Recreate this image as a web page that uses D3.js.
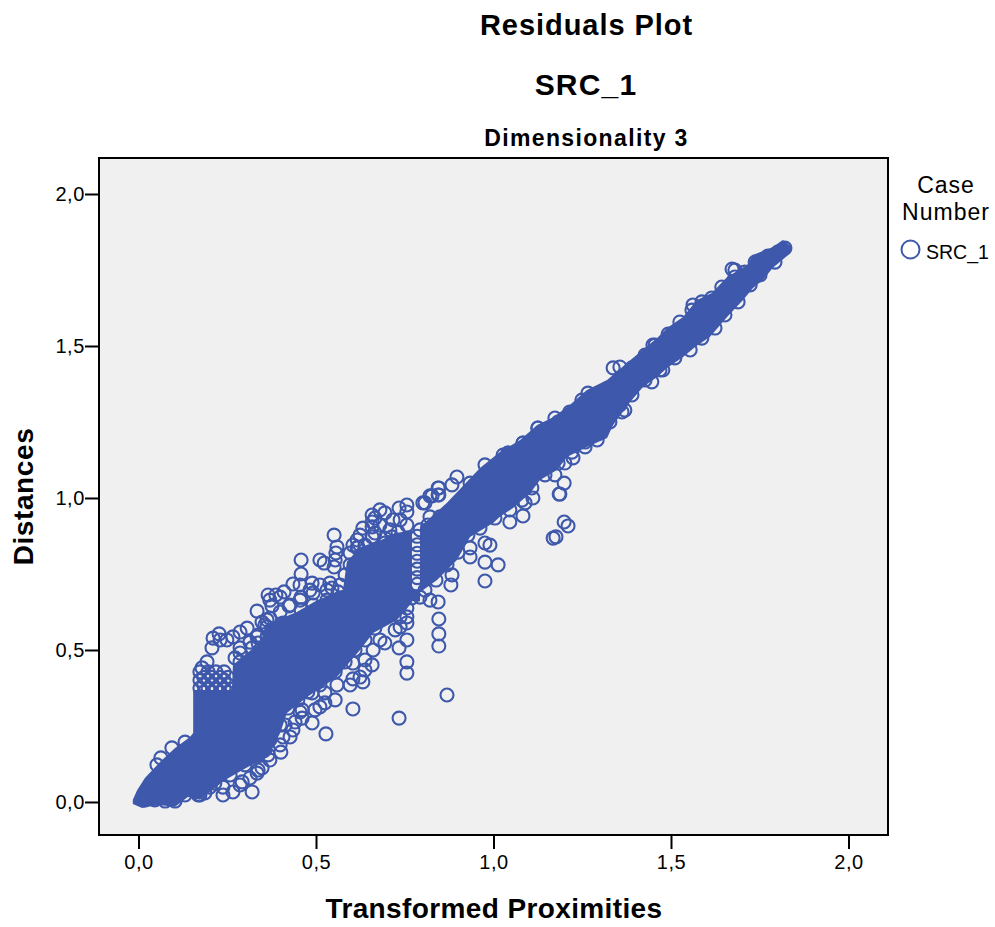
<!DOCTYPE html>
<html><head><meta charset="utf-8">
<script src="https://cdn.jsdelivr.net/npm/d3@7/dist/d3.min.js"></script>
<style>html,body{margin:0;padding:0;background:#fff}svg{display:block}text{font-family:"Liberation Sans",Arial,sans-serif;fill:#000}</style>
</head><body><svg id="c" width="995" height="927"></svg>
<script>
const tickValues=[0,0.5,1,1.5,2];
const titles=["Residuals Plot","SRC_1","Dimensionality 3"];
const xLabel="Transformed Proximities", yLabel="Distances";
const legendTitle=["Case","Number"], seriesName="SRC_1";
// Outline of the fully overplotted part of the cloud
const denseX=[-.016,-.004,.018,.061,.103,.145,.154,.154,.263,.266,.351,.356,.446,.503,.576,.587,.624,.680,.728,.770,.770,.793,.793,.869,.962,1.018,1.075,1.123,1.168,1.215,1.263,1.320,1.376,1.413,1.461,1.489,1.534,1.573,1.615,1.658,1.714,1.731,1.787,1.815,1.841,1.830,1.787,1.759,1.731,1.703,1.658,1.610,1.568,1.534,1.489,1.461,1.421,1.385,1.337,1.320,1.263,1.207,1.179,1.131,1.103,1.055,1.018,.999,.934,.897,.841,.793,.793,.770,.770,.728,.661,.624,.559,.475,.418,.399,.365,.308,.244,.215,.173,.139,.103,.055,.010,-.016];
const denseY=[.007,.039,.079,.132,.178,.214,.227,.368,.368,.451,.533,.582,.625,.664,.697,.790,.838,.860,.885,.895,.700,.700,.905,.984,1.099,1.151,1.191,1.240,1.266,1.306,1.355,1.388,1.444,1.480,1.526,1.559,1.595,1.651,1.674,1.727,1.766,1.799,1.826,1.849,1.826,1.799,1.757,1.717,1.691,1.651,1.595,1.530,1.497,1.464,1.428,1.398,1.365,1.316,1.240,1.197,1.168,1.135,1.092,1.059,1.016,.967,.938,.918,.872,.796,.730,.690,.660,.660,.655,.599,.556,.500,.411,.345,.293,.227,.148,.115,.072,.046,.007,.016,-.016,-.010,-.020,-.007];
// Individually visible cases
const caseX=[.052,.063,.094,.131,
.173,.173,.173,.196,.196,.196,.218,.218,.218,.241,.241,.241,.179,.193,.207,.210,.227,.230,.249,.266,.286,.306,.286,.286,.334,.337,.320,.362,.362,.362,
.334,.365,.376,.399,.410,.424,.435,.458,.458,.458,.458,.458,.489,.492,.492,.492,.511,.523,.551,.559,.556,.554,.551,.531,.545,.562,.531,.407,
.616,.618,.616,.666,.658,.658,.694,.708,.632,.734,.756,.756,.756,.694,.694,.694,.807,.827,.846,.846,.883,.934,.934,
.756,.756,.756,.756,.756,.756,.734,.734,.869,.604,.694,.661,.658,.638,.632,.604,.624,.604,.737,.737,
.559,.525,.525,.511,.489,.489,.528,.461,.461,.435,.427,.407,.401,.365,.337,.334,.292,.320,.266,.238,.238,.201,.173,
.801,.821,.844,.844,.897,.976,1.027,1.041,1.125,.821,.793,
.793,.821,.844,.846,.846,.846,.880,.883,.934,.934,.976,.976,1.013,.990,.976,1.046,1.083,1.111,1.089,1.199,1.187,1.185,1.199,1.210,1.176,1.168,1.224,1.201,1.173,1.370,1.362,1.446,1.337,1.356,1.266,1.125,1.083,1.173,1.258,1.292,
1.672,1.680,1.562,1.449,1.477,1.083,1.041,
.018,.046,.075,.103,.131,.168,.187,.215,.258,.300,.337,.356,.370,.399,.421,.449,.477,.511,.554,.582,.610,.638,.666,.708,.737,.770,
.807,.838,.869,.900,.928,.962,1.004,1.046,1.080,1.108,1.145,1.182,1.221,1.258,1.300,1.328,1.356,1.390,1.427,1.469,1.511,1.554,1.587,1.624,1.652,1.689,1.723,1.751,1.793,
1.821,1.801,1.773,1.737,1.708,1.680,1.643,1.615,1.587,1.559,1.525,1.492,1.455,1.427,1.390,1.356,1.323,1.289,1.249,1.215,1.182,1.145,1.103,1.069,1.032,.996,.962,.920,.883,.849,.815,
.731,.714,.694,.666,.658,.638,.616,.596,.680,
.568,.539,.511,.483,.455,.427,.399,.370,.356,.337,.314,.286,.272,
.184,.184,.184,.207,.207,.207,.230,.230,.230,.252,.252,.252,
.785,.785,.785,.785,.785,.785,.785,
.455,.441,.413,.399,.370,.348,.314,.286,.497,.554,.596,.638,.680,.723,
.370,.387,.348,.455,.582,.596,.604,.624,.658,.680,.717,.737];
const caseY=[.122,.145,.178,.197,
.428,.401,.375,.428,.401,.375,.428,.401,.375,.428,.401,.375,.441,.461,.507,.539,.553,.533,.533,.543,.559,.572,.490,.461,.543,.523,.507,.599,.576,.543,
.628,.681,.645,.674,.691,.645,.717,.796,.750,.674,.632,.592,.720,.688,.648,.609,.796,.786,.878,.839,.819,.796,.773,.697,.704,.691,.664,.589,
.862,.839,.770,.934,.921,.905,.951,.895,.901,.967,.977,.954,.911,.852,.822,.796,.984,1.007,1.033,1.010,1.043,1.049,1.020,
.638,.609,.589,.533,.461,.424,.507,.276,.352,.306,.523,.500,.451,.434,.395,.405,.411,.457,.609,.576,
.385,.359,.326,.313,.359,.260,.224,.276,.303,.237,.214,.214,.164,.155,.105,.095,.066,.033,.033,.023,.049,.049,.023,
.984,1.007,1.033,1.010,1.069,1.109,1.141,1.148,1.230,.938,.895,
.674,.664,.658,.602,.553,.513,.714,.747,.806,.836,.789,.727,.780,.845,.852,.921,.941,1.000,.984,1.049,1.013,1.013,.921,.908,.872,.868,1.132,1.115,1.076,1.289,1.283,1.382,1.428,1.431,1.345,1.230,1.181,1.263,1.168,1.191,
1.753,1.750,1.635,1.503,1.421,1.181,1.148,
.007,.007,.003,.003,.023,.023,.030,.062,.089,.122,.155,.171,.204,.253,.309,.336,.362,.385,.428,.461,.500,.533,.572,.615,.648,.671,
.697,.730,.780,.822,.878,.901,.934,.961,.993,1.033,1.076,1.115,1.151,1.184,1.214,1.250,1.306,1.339,1.388,1.421,1.461,1.487,1.526,1.559,1.602,1.645,1.701,1.734,1.776,
1.822,1.809,1.796,1.776,1.743,1.727,1.694,1.658,1.645,1.618,1.579,1.539,1.503,1.470,1.428,1.395,1.362,1.342,1.322,1.283,1.250,1.224,1.184,1.151,1.125,1.086,1.053,1.003,.961,.938,.911,
.888,.872,.868,.885,.872,.845,.836,.819,.911,
.714,.720,.714,.697,.664,.648,.625,.605,.582,.549,.526,.507,.474,
.410,.385,.360,.410,.385,.360,.410,.385,.360,.410,.385,.360,
.716,.738,.766,.792,.818,.846,.874,
.296,.263,.253,.188,.138,.112,.079,.056,.303,.336,.385,.467,.533,.566,
.664,.681,.592,.714,.747,.780,.845,.878,.944,.961,.928,.928];

const blue="#3e58ac";
const x=d3.scaleLinear().domain([-.1113,2.1113]).range([99,888]);
const y=d3.scaleLinear().domain([-.1086,2.1184]).range([835,158]);
const svg=d3.select("#c");
svg.append("rect").attr("x",99).attr("y",158).attr("width",789).attr("height",677).attr("fill","#f0f0f0");
const tf=d=>d.toFixed(1).replace(".",",");
const ax=svg.append("g").attr("transform","translate(0,835)").call(d3.axisBottom(x).tickValues(tickValues).tickSize(14).tickSizeOuter(0).tickPadding(6).tickFormat(tf));
const ay=svg.append("g").attr("transform","translate(99,0)").call(d3.axisLeft(y).tickValues(tickValues).tickSize(14).tickSizeOuter(0).tickPadding(0).tickFormat(tf));
for(const a of [ax,ay]){a.select(".domain").remove();a.selectAll("line").attr("stroke","#000").attr("stroke-width",2);a.selectAll("text").attr("font-size",20).attr("letter-spacing",0.6).attr("font-family","Liberation Sans").attr("fill","#000");}
const dense=denseX.map((d,i)=>[d,denseY[i]]);
svg.append("path").attr("d",d3.line().x(d=>x(d[0])).y(d=>y(d[1])).curve(d3.curveLinearClosed)(dense)).attr("fill",blue);
svg.append("g").selectAll("circle").data(caseX.map((d,i)=>[d,caseY[i]])).join("circle")
 .attr("cx",d=>x(d[0])).attr("cy",d=>y(d[1])).attr("r",6.5).attr("fill","none").attr("stroke",blue).attr("stroke-width",2.1);
svg.append("rect").attr("x",99).attr("y",158).attr("width",789).attr("height",677).attr("fill","none").attr("stroke","#000").attr("stroke-width",2);
const T=(s,px,py,size,weight,anchor,ls)=>svg.append("text").text(s).attr("x",px).attr("y",py).attr("font-size",size).attr("font-weight",weight||"normal").attr("text-anchor",anchor||"middle").attr("letter-spacing",ls||0);
T(titles[0],586.5,35,29,"bold","middle",0.95);T(titles[1],586,95,30,"bold","middle",1.2);T(titles[2],586.5,146,23,"bold","middle",1.35);
T(xLabel,494,918,28,"bold","middle",0.38);
svg.append("text").text(yLabel).attr("transform","translate(33,496.5) rotate(-90)").attr("font-size",28).attr("font-weight","bold").attr("text-anchor","middle").attr("letter-spacing",0.6);
T(legendTitle[0],946,193,23,"normal","middle",1);T(legendTitle[1],946,220,23,"normal","middle",1);
svg.append("circle").attr("cx",910.5).attr("cy",249.5).attr("r",9).attr("fill","none").attr("stroke",blue).attr("stroke-width",2);
T(seriesName,926,258.5,19.5,"normal","start");
</script></body></html>
